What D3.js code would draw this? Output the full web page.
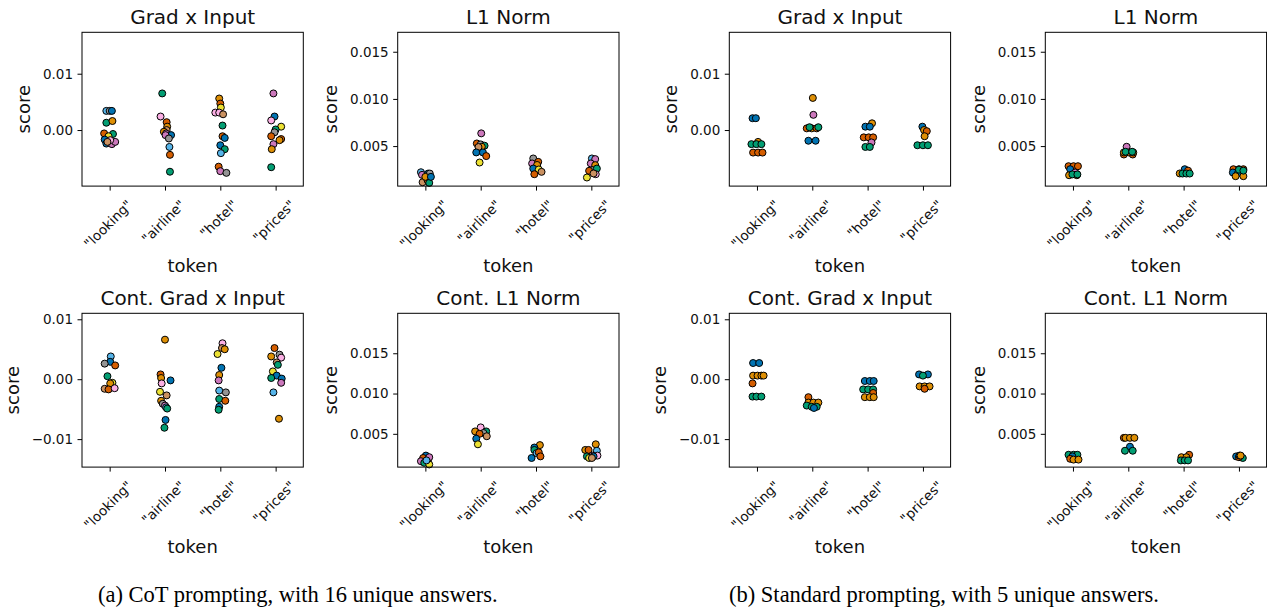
<!DOCTYPE html>
<html>
<head>
<meta charset="utf-8">
<script src="https://cdn.jsdelivr.net/npm/d3@7"></script>
<style>
  body { margin: 0; background: #fff; }
  svg { display: block; font-family: "DejaVu Sans", sans-serif; }
</style>
</head>
<body>
<div id="chart-area"></div>
<script>
/*
*    strip plots of token scores
*/

var tokens = ['"looking"', '"airline"', '"hotel"', '"prices"'];
// seaborn "colorblind" palette, one colour per answer
var palette = ["#0173b2", "#de8f05", "#029e73", "#d55e00", "#cc78bc",
               "#ca9161", "#fbafe4", "#949494", "#ece133", "#56b4e9"];

// rows: [token index, score, jitter (in category units), answer index]
var cotGrad = [
    [0, 0.0034, -0.06, 9], [0, 0.0034, 0.00, 7], [0, 0.0034, 0.04, 0], [0, 0.0013, -0.06, 2],
    [0, 0.0016, 0.05, 1], [0, -0.0006, -0.10, 3], [0, -0.0007, 0.06, 2], [0, -0.0011, -0.02, 8],
    [0, -0.0017, -0.09, 0], [0, -0.0024, -0.06, 0], [0, -0.0025, 0.04, 4], [0, -0.0021, 0.10, 4],
    [0, -0.0018, 0.01, 6], [0, -0.0021, -0.04, 5],
    [1, 0.0065, -0.05, 2], [1, 0.0024, -0.08, 6], [1, 0.0014, 0.03, 3], [1, 0.0006, 0.04, 1],
    [1, 0.0000, 0.03, 5], [1, -0.0003, -0.02, 1], [1, -0.0006, 0.02, 4], [1, -0.0009, 0.11, 0],
    [1, -0.0009, 0.01, 4], [1, -0.0015, 0.07, 7], [1, -0.0030, 0.08, 9], [1, -0.0044, 0.09, 3],
    [1, -0.0074, 0.09, 2],
    [2, 0.0056, -0.02, 1], [2, 0.0047, 0.00, 3], [2, 0.0040, 0.01, 8], [2, 0.0031, -0.09, 6],
    [2, 0.0031, -0.02, 6], [2, 0.0028, 0.05, 5], [2, 0.0008, 0.04, 2], [2, -0.0011, 0.04, 3],
    [2, -0.0014, 0.08, 0], [2, -0.0027, 0.00, 0], [2, -0.0034, 0.08, 2], [2, -0.0041, 0.01, 9],
    [2, -0.0065, -0.03, 3], [2, -0.0073, 0.00, 4], [2, -0.0076, 0.11, 7],
    [3, 0.0065, -0.04, 4], [3, 0.0024, -0.02, 0], [3, 0.0017, -0.08, 6], [3, 0.0006, 0.10, 8],
    [3, 0.0001, 0.00, 2], [3, -0.0004, -0.02, 7], [3, -0.0011, -0.08, 3], [3, -0.0016, 0.10, 3],
    [3, -0.0018, 0.07, 1], [3, -0.0025, -0.04, 4], [3, -0.0034, -0.07, 1], [3, -0.0066, -0.08, 2]
];

var cotL1 = [
    [0, 0.00223, -0.08, 9], [0, 0.00195, -0.06, 4], [0, 0.00209, 0.05, 0], [0, 0.00209, 0.08, 7],
    [0, 0.00117, -0.05, 5], [0, 0.00138, 0.04, 3], [0, 0.00110, 0.07, 2], [0, 0.00174, 0.00, 1],
    [0, 0.00174, 0.10, 0],
    [1, 0.00635, 0.01, 4], [1, 0.00528, -0.07, 3], [1, 0.00518, 0.00, 7], [1, 0.00504, 0.07, 2],
    [1, 0.00493, 0.02, 1], [1, 0.00490, -0.04, 5], [1, 0.00433, -0.08, 0], [1, 0.00433, 0.04, 0],
    [1, 0.00394, 0.10, 3], [1, 0.00326, -0.02, 8],
    [2, 0.00369, -0.05, 7], [2, 0.00316, -0.07, 4], [2, 0.00333, 0.04, 3], [2, 0.00300, 0.02, 1],
    [2, 0.00262, -0.05, 0], [2, 0.00252, 0.05, 8], [2, 0.00227, 0.10, 5], [2, 0.00202, -0.03, 3],
    [3, 0.00369, 0.01, 9], [3, 0.00362, 0.07, 4], [3, 0.00316, -0.01, 4], [3, 0.00298, 0.07, 1],
    [3, 0.00245, 0.02, 7], [3, 0.00262, 0.10, 2], [3, 0.00238, -0.04, 3], [3, 0.00202, 0.08, 6],
    [3, 0.00167, -0.08, 8], [3, 0.00210, 0.04, 5]
];

var stdGrad = [
    [0, 0.0021, -0.08, 0], [0, 0.0021, -0.02, 0], [0, -0.0021, 0.02, 1], [0, -0.0025, -0.10, 2],
    [0, -0.0025, -0.01, 2], [0, -0.0025, 0.08, 2], [0, -0.0040, -0.07, 3], [0, -0.0040, 0.02, 3],
    [0, -0.0040, 0.10, 3],
    [1, 0.0057, 0.01, 1], [1, 0.0027, 0.02, 4], [1, 0.0003, -0.10, 3], [1, 0.0003, -0.01, 1],
    [1, 0.0003, 0.08, 3], [1, 0.0005, -0.05, 2], [1, 0.0005, 0.11, 2], [1, -0.0019, -0.07, 0],
    [1, -0.0019, 0.06, 0],
    [2, 0.0012, 0.08, 1], [2, 0.0006, -0.04, 0], [2, 0.0006, 0.04, 0], [2, -0.0013, -0.07, 3],
    [2, -0.0013, 0.02, 3], [2, -0.0013, 0.10, 3], [2, -0.0022, 0.07, 4], [2, -0.0030, -0.04, 2],
    [2, -0.0030, 0.04, 2],
    [3, 0.0006, -0.01, 0], [3, 0.0000, 0.02, 1], [3, -0.0002, 0.07, 3], [3, -0.0011, 0.03, 1],
    [3, -0.0027, -0.10, 2], [3, -0.0027, 0.00, 2], [3, -0.0027, 0.09, 2]
];

var stdL1 = [
    [0, 0.00287, -0.08, 3], [0, 0.00287, 0.01, 3], [0, 0.00287, 0.09, 3], [0, 0.00255, -0.05, 0],
    [0, 0.00220, 0.04, 4], [0, 0.00191, -0.07, 1], [0, 0.00191, 0.07, 1], [0, 0.00200, -0.01, 2],
    [0, 0.00200, 0.08, 2],
    [1, 0.00493, -0.03, 4], [1, 0.00411, -0.08, 3], [1, 0.00411, 0.08, 3], [1, 0.00433, -0.08, 1],
    [1, 0.00433, 0.01, 1], [1, 0.00433, 0.09, 1], [1, 0.00440, -0.05, 2], [1, 0.00440, 0.07, 2],
    [2, 0.00255, 0.02, 0], [2, 0.00240, 0.08, 3], [2, 0.00210, -0.07, 1], [2, 0.00209, -0.02, 2],
    [2, 0.00209, 0.05, 2], [2, 0.00209, 0.11, 2],
    [3, 0.00255, -0.10, 3], [3, 0.00255, 0.00, 3], [3, 0.00255, 0.08, 3], [3, 0.00220, -0.11, 0],
    [3, 0.00210, -0.02, 0], [3, 0.00181, -0.06, 1], [3, 0.00181, 0.08, 1], [3, 0.00250, 0.00, 2],
    [3, 0.00240, 0.08, 2]
];

var cotContGrad = [
    [0, 0.0038, 0.02, 9], [0, 0.0029, 0.01, 0], [0, 0.0026, -0.09, 7], [0, 0.0023, 0.10, 3],
    [0, 0.0005, -0.04, 2], [0, -0.0006, 0.05, 8], [0, -0.0007, 0.01, 1], [0, -0.0016, -0.09, 5],
    [0, -0.0017, -0.02, 3], [0, -0.0015, 0.09, 6],
    [1, 0.0066, 0.00, 1], [1, 0.0008, -0.08, 3], [1, 0.0002, -0.07, 1], [1, -0.0007, -0.06, 6],
    [1, -0.0002, 0.10, 0], [1, -0.0021, -0.09, 8], [1, -0.0027, 0.03, 5], [1, -0.0036, -0.07, 1],
    [1, -0.0041, -0.04, 7], [1, -0.0044, 0.00, 4], [1, -0.0047, 0.02, 9], [1, -0.0049, 0.04, 2],
    [1, -0.0068, 0.01, 0], [1, -0.0081, -0.01, 2],
    [2, 0.0060, 0.04, 6], [2, 0.0052, 0.03, 5], [2, 0.0050, 0.08, 1], [2, 0.0042, -0.05, 8],
    [2, 0.0019, 0.02, 0], [2, 0.0007, -0.02, 1], [2, -0.0002, -0.03, 4], [2, -0.0019, -0.02, 9],
    [2, -0.0022, 0.10, 7], [2, -0.0033, -0.02, 2], [2, -0.0036, 0.09, 3], [2, -0.0046, -0.02, 0],
    [2, -0.0051, -0.03, 2],
    [3, 0.0052, -0.02, 3], [3, 0.0038, -0.08, 1], [3, 0.0041, 0.07, 7], [3, 0.0036, 0.10, 6],
    [3, 0.0028, 0.02, 5], [3, 0.0024, 0.04, 2], [3, 0.0013, -0.05, 8], [3, 0.0006, 0.02, 0],
    [3, 0.0002, -0.08, 2], [3, 0.0001, 0.11, 0], [3, -0.0006, 0.10, 4], [3, -0.0022, -0.04, 9],
    [3, -0.0066, 0.06, 1]
];

var cotContL1 = [
    [0, 0.0023, 0.01, 0], [0, 0.0020, -0.04, 3], [0, 0.0018, 0.05, 1], [0, 0.0021, 0.07, 4],
    [0, 0.0016, -0.08, 4], [0, 0.0014, -0.02, 2], [0, 0.0012, 0.07, 8], [0, 0.0017, 0.02, 9],
    [1, 0.0058, 0.00, 6], [1, 0.0053, -0.10, 1], [1, 0.0053, 0.10, 2], [1, 0.0051, 0.05, 7],
    [1, 0.0050, -0.02, 3], [1, 0.0047, 0.11, 5], [1, 0.0044, -0.08, 0], [1, 0.0037, -0.05, 8],
    [2, 0.0036, 0.07, 1], [2, 0.0033, -0.03, 0], [2, 0.0030, -0.03, 2], [2, 0.0026, 0.01, 9],
    [2, 0.0027, 0.05, 3], [2, 0.0022, 0.08, 3], [2, 0.0020, -0.08, 0],
    [3, 0.0037, 0.08, 1], [3, 0.0030, -0.11, 1], [3, 0.0030, -0.05, 3], [3, 0.0029, 0.10, 9],
    [3, 0.0023, 0.02, 4], [3, 0.0023, 0.11, 6], [3, 0.0022, -0.08, 2], [3, 0.0022, 0.04, 0],
    [3, 0.0020, -0.04, 8], [3, 0.0020, 0.01, 5]
];

var stdContGrad = [
    [0, 0.0027, -0.07, 0], [0, 0.0027, 0.04, 0], [0, 0.0006, -0.07, 1], [0, 0.0006, 0.01, 1],
    [0, 0.0006, 0.08, 1], [0, 0.0006, 0.12, 1], [0, -0.0007, -0.08, 3], [0, -0.0029, -0.08, 2],
    [0, -0.0029, -0.01, 2], [0, -0.0029, 0.08, 2],
    [1, -0.0030, -0.07, 3], [1, -0.0039, -0.07, 1], [1, -0.0039, 0.02, 1], [1, -0.0039, 0.11, 1],
    [1, -0.0044, -0.10, 2], [1, -0.0046, -0.01, 2], [1, -0.0046, 0.08, 2], [1, -0.0048, 0.03, 0],
    [2, -0.0003, -0.05, 0], [2, -0.0003, 0.04, 0], [2, -0.0003, 0.11, 0], [2, -0.0017, -0.08, 2],
    [2, -0.0017, 0.01, 2], [2, -0.0017, 0.10, 2], [2, -0.0023, 0.10, 3], [2, -0.0030, -0.05, 1],
    [2, -0.0030, 0.04, 1], [2, -0.0030, 0.11, 1],
    [3, 0.0008, -0.07, 0], [3, 0.0008, 0.09, 0], [3, 0.0006, 0.00, 2], [3, -0.0012, -0.06, 1],
    [3, -0.0012, 0.03, 1], [3, -0.0012, 0.12, 1], [3, -0.0016, 0.03, 3]
];

var stdContL1 = [
    [0, 0.0024, -0.08, 2], [0, 0.0024, 0.01, 2], [0, 0.0024, 0.08, 2], [0, 0.0022, -0.01, 0],
    [0, 0.0019, -0.05, 3], [0, 0.0018, 0.01, 1], [0, 0.0018, 0.10, 1],
    [1, 0.0045, -0.08, 3], [1, 0.0045, -0.05, 1], [1, 0.0045, 0.03, 1], [1, 0.0045, 0.11, 1],
    [1, 0.0034, 0.03, 0], [1, 0.0029, -0.06, 2], [1, 0.0029, 0.08, 2],
    [2, 0.0024, 0.10, 3], [2, 0.0021, -0.04, 1], [2, 0.0021, 0.05, 1], [2, 0.0017, -0.05, 2],
    [2, 0.0017, 0.02, 2], [2, 0.0017, 0.08, 2],
    [3, 0.0022, -0.05, 0], [3, 0.0020, 0.07, 2], [3, 0.0021, 0.00, 3], [3, 0.0023, 0.01, 0],
    [3, 0.0023, 0.03, 1]
];

// y limits and ticks for the four kinds of panel
var gradLim = [-0.00995, 0.01735];
var l1Lim = [0.00076, 0.01706];
var contGradLim = [-0.01467, 0.0110];
var contL1Lim = [0.00087, 0.01996];
var gradTicks = [0, 0.01];
var contGradTicks = [-0.01, 0, 0.01];
var l1Ticks = [0.005, 0.010, 0.015];

var captions = ["(a) CoT prompting, with 16 unique answers.",
                "(b) Standard prompting, with 5 unique answers."];

var panels = [
    { title: "Grad x Input", data: cotGrad, lim: gradLim, ticks: gradTicks, fmt: ".2f", col: 0, row: 0 },
    { title: "L1 Norm", data: cotL1, lim: l1Lim, ticks: l1Ticks, fmt: ".3f", col: 1, row: 0 },
    { title: "Grad x Input", data: stdGrad, lim: gradLim, ticks: gradTicks, fmt: ".2f", col: 2, row: 0 },
    { title: "L1 Norm", data: stdL1, lim: l1Lim, ticks: l1Ticks, fmt: ".3f", col: 3, row: 0 },
    { title: "Cont. Grad x Input", data: cotContGrad, lim: contGradLim, ticks: contGradTicks, fmt: ".2f", col: 0, row: 1 },
    { title: "Cont. L1 Norm", data: cotContL1, lim: contL1Lim, ticks: l1Ticks, fmt: ".3f", col: 1, row: 1 },
    { title: "Cont. Grad x Input", data: stdContGrad, lim: contGradLim, ticks: contGradTicks, fmt: ".2f", col: 2, row: 1 },
    { title: "Cont. L1 Norm", data: stdContL1, lim: contL1Lim, ticks: l1Ticks, fmt: ".3f", col: 3, row: 1 }
];

var width = 1267;
var height = 609;
var colLeft = [82, 397.7, 729.3, 1045.3];
var rowTop = [32.3, 313.3];
var boxW = 221.3;
var boxH = 153.8;

var svg = d3.select("#chart-area").append("svg")
    .attr("width", width)
    .attr("height", height);

var color = d3.scaleOrdinal().domain(d3.range(palette.length)).range(palette);

panels.forEach(function(p) {
    var g = svg.append("g")
        .attr("transform", "translate(" + colLeft[p.col] + ", " + rowTop[p.row] + ")");

    var x = d3.scaleLinear().domain([-0.5, 3.5]).range([0, boxW]);
    var y = d3.scaleLinear().domain(p.lim).range([boxH, 0]);

    // y axis
    var yAxis = g.append("g")
        .call(d3.axisLeft(y).tickValues(p.ticks).tickFormat(d3.format(p.fmt))
            .tickSize(4.5).tickPadding(4.5));
    yAxis.select(".domain").remove();
    yAxis.selectAll("line").attr("stroke", "#000").attr("stroke-width", 1);
    yAxis.selectAll("text")
        .attr("font-family", "DejaVu Sans")
        .attr("font-size", "13.5px")
        .attr("fill", "#111");

    // x axis with rotated token labels
    var xAxis = g.append("g")
        .attr("transform", "translate(0," + boxH + ")")
        .call(d3.axisBottom(x).tickValues([0, 1, 2, 3]).tickFormat((i) => tokens[i])
            .tickSize(4.5));
    xAxis.select(".domain").remove();
    xAxis.selectAll("line").attr("stroke", "#000").attr("stroke-width", 1);
    xAxis.selectAll("text")
        .attr("font-family", "DejaVu Sans")
        .attr("font-size", "13.5px")
        .attr("fill", "#111")
        .attr("text-anchor", "middle")
        .attr("x", 0)
        .attr("y", 0)
        .attr("dy", "0.35em")
        .attr("transform", function() {
            var len = this.getComputedTextLength();
            var half = (len + 15) * Math.SQRT1_2 / 2;
            return "translate(-2," + (11 + half) + ") rotate(-45)";
        });

    // points
    g.selectAll("circle").data(p.data)
        .enter().append("circle")
        .attr("cx", (d) => x(d[0] + d[2]))
        .attr("cy", (d) => y(d[1]))
        .attr("r", 3.5)
        .attr("fill", (d) => color(d[3]))
        .attr("stroke", "#000")
        .attr("stroke-width", 1);

    // frame
    g.append("rect")
        .attr("width", boxW)
        .attr("height", boxH)
        .attr("fill", "none")
        .attr("stroke", "#000")
        .attr("stroke-width", 1);

    g.append("text")
        .attr("x", boxW / 2)
        .attr("y", -8)
        .attr("font-size", "20px")
        .attr("fill", "#111")
        .attr("text-anchor", "middle")
        .text(p.title);

    g.append("text")
        .attr("x", boxW / 2)
        .attr("y", boxH + 86)
        .attr("font-size", "18px")
        .attr("fill", "#111")
        .attr("text-anchor", "middle")
        .text("token");

    var tickLeft = d3.min(yAxis.selectAll("text").nodes(), (n) => -n.getComputedTextLength()) - 9;
    g.append("text")
        .attr("transform", "translate(" + (tickLeft - 13) + "," + (boxH / 2) + ") rotate(-90)")
        .attr("font-size", "18px")
        .attr("fill", "#111")
        .attr("text-anchor", "middle")
        .text("score");
});

svg.selectAll(".caption").data(captions)
    .enter().append("text")
    .attr("class", "caption")
    .attr("x", (d, i) => i === 0 ? 98 : 729)
    .attr("y", 602)
    .attr("font-family", "Liberation Serif")
    .attr("font-size", "22.5px")
    .text((d) => d);
</script>
</body>
</html>
